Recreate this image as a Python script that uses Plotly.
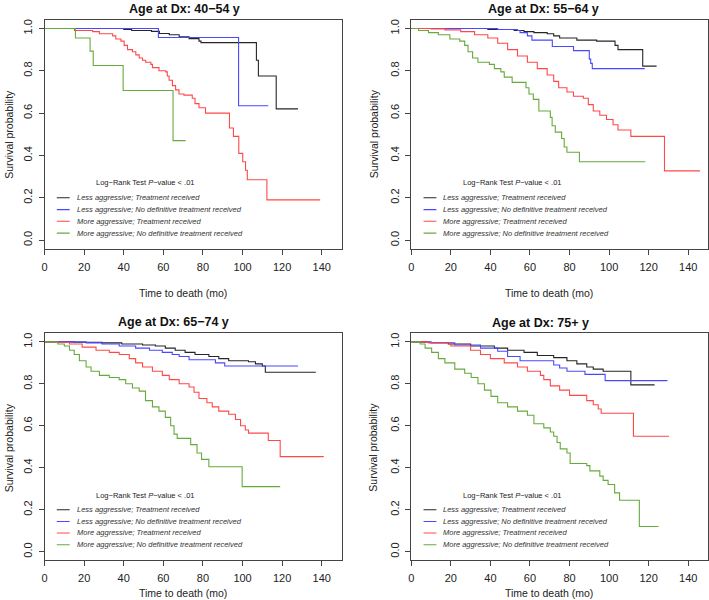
import plotly.graph_objects as go

# Kaplan-Meier curves (time in months, survival probability)
# panel 1: age 40-54
t40_less_tx = [0, 40, 44, 54, 58, 63, 68, 73, 78, 79, 107, 108, 117, 128]
s40_less_tx = [1, 0.995, 0.99, 0.986, 0.976, 0.97, 0.96, 0.952, 0.94, 0.933, 0.85, 0.775, 0.62, 0.62]
t40_less_no = [0, 57.5, 98, 113]
s40_less_no = [1, 0.957, 0.635, 0.635]
t40_more_tx = [0, 15.1, 24.3, 27.7, 34.4, 36, 38.6, 40.2, 41.9, 44.4, 46.1, 47.8, 49.5, 51.1, 53.7, 54.5,
               57.8, 61.2, 62, 62.9, 64.6, 66.2, 67.9, 70.4, 74.6, 76, 78, 81.3, 93.4, 95.4, 98.1, 100.1,
               101.5, 102.4, 112.3, 139.2]
s40_more_tx = [1, 0.99, 0.985, 0.975, 0.965, 0.95, 0.94, 0.92, 0.9, 0.89, 0.875, 0.86, 0.85, 0.84, 0.83, 0.815,
               0.8, 0.795, 0.775, 0.755, 0.73, 0.71, 0.69, 0.685, 0.67, 0.645, 0.625, 0.6, 0.53, 0.49, 0.41, 0.37,
               0.33, 0.285, 0.19, 0.19]
t40_more_no = [0, 15.6, 23, 24.6, 39.7, 64.9, 71.3]
s40_more_no = [1, 0.955, 0.893, 0.825, 0.707, 0.47, 0.47]

# panel 2: age 55-64
t55_less_tx = [0, 38.7, 52, 57, 62, 68.7, 72, 75, 83.7, 93.7, 103, 104.5, 117, 124]
s55_less_tx = [1, 0.995, 0.99, 0.985, 0.98, 0.975, 0.965, 0.955, 0.945, 0.94, 0.92, 0.9, 0.822, 0.822]
t55_less_no = [0, 43.7, 53.7, 55, 58.7, 61, 71.3, 82, 90, 90.7, 91.5, 118]
s55_less_no = [1, 0.995, 0.99, 0.98, 0.965, 0.945, 0.915, 0.895, 0.855, 0.835, 0.81, 0.81]
t55_more_tx = [0, 10, 17, 25, 32, 38.7, 43.7, 48.7, 53.7, 58.7, 63.7, 68.7, 72, 74.5, 78.7, 82, 87, 89.5,
               92, 95.3, 98.7, 102, 104.5, 111, 128, 146]
s55_more_tx = [1, 0.998, 0.993, 0.985, 0.97, 0.955, 0.93, 0.9, 0.87, 0.84, 0.81, 0.78, 0.75, 0.72, 0.7, 0.68,
               0.67, 0.64, 0.61, 0.59, 0.57, 0.545, 0.52, 0.49, 0.327, 0.327]
t55_more_no = [0, 3.7, 8.7, 13.7, 19.5, 24.5, 27, 28.7, 31, 33.7, 39.5, 42, 45.3, 47, 51, 58, 59.5, 61.7,
               64.5, 70.3, 71.2, 72.8, 76, 77.3, 78.7, 85, 118.3]
s55_more_no = [1, 0.99, 0.98, 0.97, 0.95, 0.94, 0.92, 0.89, 0.86, 0.84, 0.83, 0.81, 0.795, 0.77, 0.745, 0.72,
               0.69, 0.665, 0.61, 0.58, 0.54, 0.51, 0.48, 0.44, 0.415, 0.37, 0.37]

# panel 3: age 65-74
t65_less_tx = [0, 15, 29, 39, 49.5, 56, 61, 66, 71, 76, 83, 88, 93, 103, 106.5, 110, 111.5, 137]
s65_less_tx = [1, 0.998, 0.995, 0.99, 0.985, 0.98, 0.97, 0.96, 0.95, 0.94, 0.93, 0.92, 0.91, 0.905, 0.895,
               0.885, 0.855, 0.855]
t65_less_no = [0, 21, 29, 37.7, 46, 53, 59.5, 64.5, 68, 73, 86.3, 91, 128]
s65_less_no = [1, 0.995, 0.99, 0.98, 0.97, 0.96, 0.95, 0.94, 0.93, 0.915, 0.9, 0.885, 0.885]
t65_more_tx = [0, 4, 12.6, 19, 26, 32.7, 37.7, 42.8, 46, 49.5, 54.5, 59.5, 63, 68, 73, 75.5, 78, 82, 84.7,
               88, 93, 96.4, 99, 101.4, 103, 113, 119, 141]
s65_more_tx = [1, 0.998, 0.99, 0.975, 0.96, 0.95, 0.94, 0.92, 0.9, 0.88, 0.86, 0.84, 0.82, 0.8, 0.785, 0.76,
               0.73, 0.71, 0.69, 0.67, 0.655, 0.63, 0.6, 0.58, 0.565, 0.53, 0.453, 0.453]
t65_more_no = [0, 6.7, 10, 12.6, 15, 17.6, 21, 23.5, 27.7, 32.7, 37.7, 41, 44.4, 47.8, 51, 54.5, 57.8, 61,
               63.7, 65.4, 67, 73.8, 77, 79.3, 83, 99.8, 119]
s65_more_no = [1, 0.99, 0.98, 0.96, 0.94, 0.91, 0.88, 0.86, 0.84, 0.83, 0.82, 0.8, 0.78, 0.765, 0.72, 0.69,
               0.67, 0.64, 0.6, 0.56, 0.54, 0.51, 0.47, 0.44, 0.405, 0.31, 0.31]

# panel 4: age 75+
t75_less_tx = [0, 8.7, 18.7, 30, 42, 48.7, 57, 63.7, 72, 78.7, 83.7, 88.7, 92, 97, 111, 123]
s75_less_tx = [1, 0.997, 0.99, 0.98, 0.97, 0.96, 0.95, 0.935, 0.925, 0.91, 0.895, 0.88, 0.87, 0.86, 0.795, 0.795]
t75_less_no = [0, 10, 22, 35, 43.7, 48.7, 55, 72, 75, 78.7, 87.8, 98, 129.5]
s75_less_no = [1, 0.995, 0.985, 0.97, 0.955, 0.93, 0.91, 0.89, 0.875, 0.86, 0.845, 0.815, 0.815]
t75_more_tx = [0, 8.7, 20, 30, 35, 40, 47, 53.7, 58.7, 65.3, 67, 70.3, 75, 80, 88.7, 92, 94.5, 96, 112.3, 130.3]
s75_more_tx = [1, 0.995, 0.98, 0.96, 0.94, 0.92, 0.9, 0.88, 0.86, 0.84, 0.82, 0.79, 0.77, 0.745, 0.72, 0.7,
               0.68, 0.66, 0.55, 0.55]
t75_more_no = [0, 4.5, 7, 10.3, 13.7, 17, 22, 27, 30.3, 33.7, 37, 40.3, 43.7, 48.7, 53.7, 58.7, 62, 67, 70.3,
               72, 73.7, 75.3, 78.7, 80.3, 88.7, 90.3, 95.3, 97, 99.5, 102.8, 105.3, 115.3, 125]
s75_more_no = [1, 0.99, 0.97, 0.95, 0.92, 0.9, 0.87, 0.85, 0.83, 0.8, 0.77, 0.74, 0.71, 0.69, 0.67, 0.65, 0.61,
               0.59, 0.57, 0.55, 0.52, 0.49, 0.47, 0.42, 0.41, 0.385, 0.36, 0.34, 0.32, 0.28, 0.245, 0.12, 0.12]

titles = ["Age at Dx: 40\u221254 y", "Age at Dx: 55\u221264 y", "Age at Dx: 65\u221274 y", "Age at Dx: 75+ y"]
group_names = ["Less aggressive; Treatment received",
               "Less aggressive; No definitive treatment received",
               "More aggressive; Treatment received",
               "More aggressive; No definitive treatment received"]
colors = ["#262626", "#4848ff", "#ff4848", "#66aa3c"]
x_ticks = [0, 20, 40, 60, 80, 100, 120, 140]
y_ticks = [0.0, 0.2, 0.4, 0.6, 0.8, 1.0]

panels = [
    [(t40_less_tx, s40_less_tx), (t40_less_no, s40_less_no), (t40_more_tx, s40_more_tx), (t40_more_no, s40_more_no)],
    [(t55_less_tx, s55_less_tx), (t55_less_no, s55_less_no), (t55_more_tx, s55_more_tx), (t55_more_no, s55_more_no)],
    [(t65_less_tx, s65_less_tx), (t65_less_no, s65_less_no), (t65_more_tx, s65_more_tx), (t65_more_no, s65_more_no)],
    [(t75_less_tx, s75_less_tx), (t75_less_no, s75_less_no), (t75_more_tx, s75_more_tx), (t75_more_no, s75_more_no)],
]

W, H = 709, 600
FONT = "Liberation Sans, Arial, Helvetica, sans-serif"
x_domains = [[41.7 / W, 340 / W], [410 / W, 708 / W], [41.7 / W, 340 / W], [410 / W, 708 / W]]
y_domains = [[1 - 248 / H, 1 - 19 / H], [1 - 248 / H, 1 - 19 / H], [1 - 560 / H, 1 - 333 / H], [1 - 560 / H, 1 - 333 / H]]
title_pos = [(182, 8), (543, 8), (171, 322), (540, 323)]
xtitle_pos = [(181, 292), (548, 292), (181, 593), (548, 593)]
ytitle_pos = [(6, 133), (372, 133), (6, 447), (372, 447)]

fig = go.Figure()
annotations = []
shapes = []
legend_y = [0.2, 0.144, 0.089, 0.033]

for p, curves in enumerate(panels):
    xa = "x" if p == 0 else "x%d" % (p + 1)
    ya = "y" if p == 0 else "y%d" % (p + 1)
    for c, (t, s) in enumerate(curves):
        fig.add_trace(go.Scatter(x=t, y=s, mode="lines", line=dict(color=colors[c], width=1.1, shape="hv"),
                                 xaxis=xa, yaxis=ya, showlegend=False, hoverinfo="skip"))

    axis_common = dict(showline=True, mirror=True, linecolor="#444", linewidth=1, ticks="outside",
                       ticklen=5, tickcolor="#444", showgrid=False, zeroline=False,
                       tickfont=dict(family=FONT, size=11, color="#222"))
    fig.layout["xaxis" if p == 0 else "xaxis%d" % (p + 1)] = dict(
        domain=x_domains[p], range=[0, 150], tickvals=x_ticks, anchor=ya, ticklabelstandoff=3, **axis_common)
    fig.layout["yaxis" if p == 0 else "yaxis%d" % (p + 1)] = dict(
        domain=y_domains[p], range=[-0.04, 1.04], tickvals=y_ticks, tickformat=".1f", tickangle=-90,
        anchor=xa, ticklabelstandoff=2, **axis_common)

    tx, ty = title_pos[p]
    annotations.append(dict(text="<b>" + titles[p] + "</b>", x=tx / W, y=1 - ty / H, xref="paper", yref="paper",
                            showarrow=False, font=dict(family=FONT, size=12.5, color="#111"),
                            xanchor="center", yanchor="middle"))
    ax_, ay_ = xtitle_pos[p]
    annotations.append(dict(text="Time to death (mo)", x=ax_ / W, y=1 - ay_ / H, xref="paper", yref="paper",
                            showarrow=False, font=dict(family=FONT, size=10.5, color="#222"),
                            xanchor="center", yanchor="middle"))
    bx, by = ytitle_pos[p]
    annotations.append(dict(text="Survival probability", x=bx / W, y=1 - by / H, xref="paper", yref="paper",
                            showarrow=False, textangle=-90, font=dict(family=FONT, size=10.5, color="#222"),
                            xanchor="center", yanchor="middle"))
    annotations.append(dict(text="Log\u2212Rank Test <i>P</i>\u2212value &lt; .01", x=51, y=0.27, xref=xa, yref=ya,
                            showarrow=False, font=dict(family=FONT, size=7.5, color="#222"),
                            xanchor="center", yanchor="middle"))
    for c in range(4):
        shapes.append(dict(type="line", x0=6.2, x1=12.7, y0=legend_y[c], y1=legend_y[c], xref=xa, yref=ya,
                           line=dict(color=colors[c], width=1.1)))
        annotations.append(dict(text=group_names[c], x=15.2, y=legend_y[c], xref=xa, yref=ya, showarrow=False,
                                font=dict(family=FONT, size=7.5, color="#333", style="italic"),
                                xanchor="left", yanchor="middle"))

fig.update_layout(width=W, height=H, margin=dict(l=0, r=0, t=0, b=0), plot_bgcolor="white",
                  paper_bgcolor="white", annotations=annotations, shapes=shapes, showlegend=False)

# drop the browser's default body margin so the figure fills the window exactly
fig.write_html("out.html", config={"displayModeBar": False},
               post_script="document.body.style.margin='0';")
